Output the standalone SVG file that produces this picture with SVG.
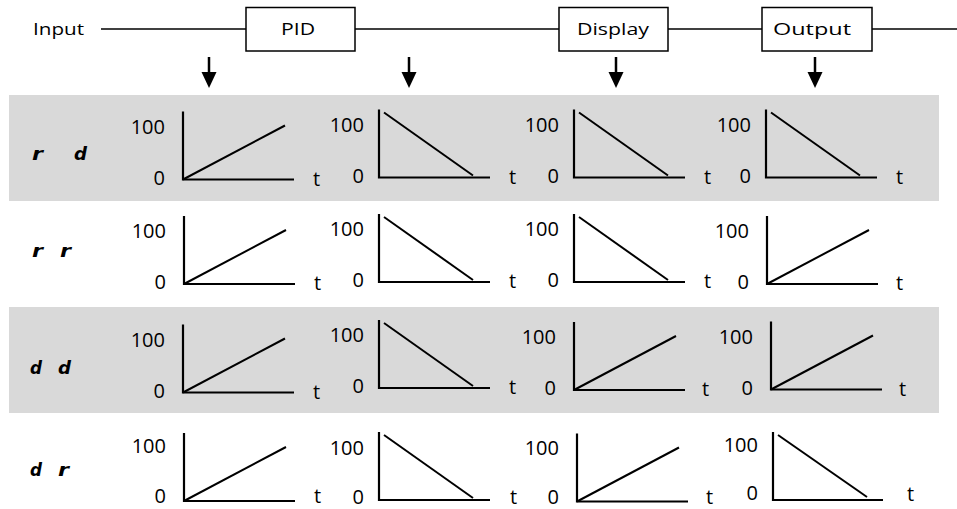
<svg xmlns="http://www.w3.org/2000/svg" width="957" height="509" viewBox="0 0 957 509">
<style>
.band{fill:#d9d9d9}
.box{fill:#ffffff;stroke:#000;stroke-width:1.5}
.sig{stroke:#000;stroke-width:1.5;fill:none}
.shaft{stroke:#000;stroke-width:2.5}
.head{fill:#000}
.ax{fill:none;stroke:#000;stroke-width:2.2}
.cv{stroke:#000;stroke-width:2}
.lbl{font-family:"Open Sans","Liberation Sans",sans-serif;font-size:16px;fill:#000}
.num{font-family:"Open Sans","Liberation Sans",sans-serif;font-size:20px;fill:#000;text-anchor:end}
.t{font-family:"Open Sans","Liberation Sans",sans-serif;font-size:20px;fill:#000}
.seg{font-family:"DejaVu Sans","Liberation Sans",sans-serif;font-weight:bold;font-style:oblique;font-size:17px;fill:#000}
</style>
<rect class="band" x="9" y="95" width="930" height="106"/>
<rect class="band" x="9" y="307" width="930" height="106"/>

<g id="connectors">
<line class="sig" x1="101" y1="29" x2="246" y2="29"/>
<line class="sig" x1="355" y1="29" x2="559" y2="29"/>
<line class="sig" x1="668" y1="29" x2="762" y2="29"/>
<line class="sig" x1="872" y1="29" x2="957" y2="29"/>
<line class="shaft" x1="209" y1="57" x2="209" y2="74"/><polygon class="head" points="201.5,72 216.5,72 209,88"/>
<line class="shaft" x1="409" y1="57" x2="409" y2="74"/><polygon class="head" points="401.5,72 416.5,72 409,88"/>
<line class="shaft" x1="616" y1="57" x2="616" y2="74"/><polygon class="head" points="608.5,72 623.5,72 616,88"/>
<line class="shaft" x1="815" y1="57" x2="815" y2="74"/><polygon class="head" points="807.5,72 822.5,72 815,88"/>
</g>

<g id="input"><text class="lbl" x="33" y="35" textLength="51" lengthAdjust="spacingAndGlyphs">Input</text></g>
<g id="pid"><rect class="box" x="246" y="7.5" width="109" height="43.5"/><text class="lbl" x="281" y="35" textLength="34" lengthAdjust="spacingAndGlyphs">PID</text></g>
<g id="display"><rect class="box" x="559" y="7.5" width="109" height="43.5"/><text class="lbl" x="577" y="35" textLength="72" lengthAdjust="spacingAndGlyphs">Display</text></g>
<g id="output"><rect class="box" x="762" y="7.5" width="110" height="43.5"/><text class="lbl" x="773" y="35" textLength="78" lengthAdjust="spacingAndGlyphs">Output</text></g>

<g id="row1">
<text class="seg" x="32" y="160" textLength="11" lengthAdjust="spacingAndGlyphs">r</text>
<text class="seg" x="74" y="160" font-size="24" textLength="13" lengthAdjust="spacingAndGlyphs">d</text>
<g id="g11"><polyline class="ax" points="183,111.5 183,179.5 294,179.5"/><line class="cv" x1="183" y1="179.5" x2="285" y2="125.5"/><text class="num" x="165" y="133.5">100</text><text class="num" x="165" y="184.5">0</text><text class="t" x="313" y="185.5">t</text></g>
<g id="g12"><polyline class="ax" points="379,109.5 379,177.5 490,177.5"/><line class="cv" x1="384" y1="112.5" x2="473" y2="175.5"/><text class="num" x="364" y="131.5">100</text><text class="num" x="364" y="182.5">0</text><text class="t" x="509" y="183.5">t</text></g>
<g id="g13"><polyline class="ax" points="574,109.5 574,177.5 685,177.5"/><line class="cv" x1="579" y1="112.5" x2="668" y2="175.5"/><text class="num" x="559" y="131.5">100</text><text class="num" x="559" y="182.5">0</text><text class="t" x="704" y="183.5">t</text></g>
<g id="g14"><polyline class="ax" points="766,109.5 766,177.5 877,177.5"/><line class="cv" x1="771" y1="112.5" x2="860" y2="175.5"/><text class="num" x="751" y="131.5">100</text><text class="num" x="751" y="182.5">0</text><text class="t" x="896" y="183.5">t</text></g>
</g>

<g id="row2">
<text class="seg" x="32" y="257" textLength="11" lengthAdjust="spacingAndGlyphs">r</text>
<text class="seg" x="60" y="257" textLength="11" lengthAdjust="spacingAndGlyphs">r</text>
<g id="g21"><polyline class="ax" points="184,216 184,284 295,284"/><line class="cv" x1="184" y1="284" x2="286" y2="230"/><text class="num" x="166" y="238">100</text><text class="num" x="166" y="289">0</text><text class="t" x="314" y="290">t</text></g>
<g id="g22"><polyline class="ax" points="379,214 379,282 490,282"/><line class="cv" x1="384" y1="217" x2="473" y2="280"/><text class="num" x="364" y="236">100</text><text class="num" x="364" y="287">0</text><text class="t" x="509" y="288">t</text></g>
<g id="g23"><polyline class="ax" points="574,214 574,282 685,282"/><line class="cv" x1="579" y1="217" x2="668" y2="280"/><text class="num" x="559" y="236">100</text><text class="num" x="559" y="287">0</text><text class="t" x="704" y="288">t</text></g>
<g id="g24"><polyline class="ax" points="767,216 767,284 878,284"/><line class="cv" x1="767" y1="284" x2="869" y2="230"/><text class="num" x="749" y="238">100</text><text class="num" x="749" y="289">0</text><text class="t" x="896" y="290">t</text></g>
</g>

<g id="row3">
<text class="seg" x="30" y="374" textLength="12" lengthAdjust="spacingAndGlyphs">d</text>
<text class="seg" x="58" y="374" textLength="13" lengthAdjust="spacingAndGlyphs">d</text>
<g id="g31"><polyline class="ax" points="183,324.5 183,392.5 294,392.5"/><line class="cv" x1="183" y1="392.5" x2="285" y2="338.5"/><text class="num" x="165" y="346.5">100</text><text class="num" x="165" y="397.5">0</text><text class="t" x="313" y="398.5">t</text></g>
<g id="g32"><polyline class="ax" points="379,320 379,388 490,388"/><line class="cv" x1="384" y1="323" x2="473" y2="386"/><text class="num" x="364" y="342">100</text><text class="num" x="364" y="393">0</text><text class="t" x="509" y="394">t</text></g>
<g id="g33"><polyline class="ax" points="574,322 574,390 685,390"/><line class="cv" x1="574" y1="390" x2="676" y2="336"/><text class="num" x="556" y="344">100</text><text class="num" x="556" y="395">0</text><text class="t" x="702" y="396">t</text></g>
<g id="g34"><polyline class="ax" points="771,321.5 771,389.5 882,389.5"/><line class="cv" x1="771" y1="389.5" x2="873" y2="335.5"/><text class="num" x="753" y="343.5">100</text><text class="num" x="753" y="394.5">0</text><text class="t" x="899" y="395.5">t</text></g>
</g>

<g id="row4">
<text class="seg" x="30" y="476" textLength="12" lengthAdjust="spacingAndGlyphs">d</text>
<text class="seg" x="58" y="476" textLength="11" lengthAdjust="spacingAndGlyphs">r</text>
<g id="g41"><polyline class="ax" points="184,433 184,501 295,501"/><line class="cv" x1="184" y1="501" x2="286" y2="447"/><text class="num" x="166" y="453">100</text><text class="num" x="166" y="503">0</text><text class="t" x="314" y="503">t</text></g>
<g id="g42"><polyline class="ax" points="379,432 379,500 490,500"/><line class="cv" x1="384" y1="435" x2="473" y2="498"/><text class="num" x="364" y="455">100</text><text class="num" x="364" y="504">0</text><text class="t" x="510" y="504">t</text></g>
<g id="g43"><polyline class="ax" points="577,433.5 577,501.5 688,501.5"/><line class="cv" x1="577" y1="501.5" x2="679" y2="447.5"/><text class="num" x="559" y="455">100</text><text class="num" x="559" y="504">0</text><text class="t" x="706" y="504">t</text></g>
<g id="g44"><polyline class="ax" points="773,432 773,500 883,500"/><line class="cv" x1="778" y1="435" x2="867" y2="497"/><text class="num" x="758" y="452">100</text><text class="num" x="758" y="500">0</text><text class="t" x="907" y="501">t</text></g>
</g>
</svg>
